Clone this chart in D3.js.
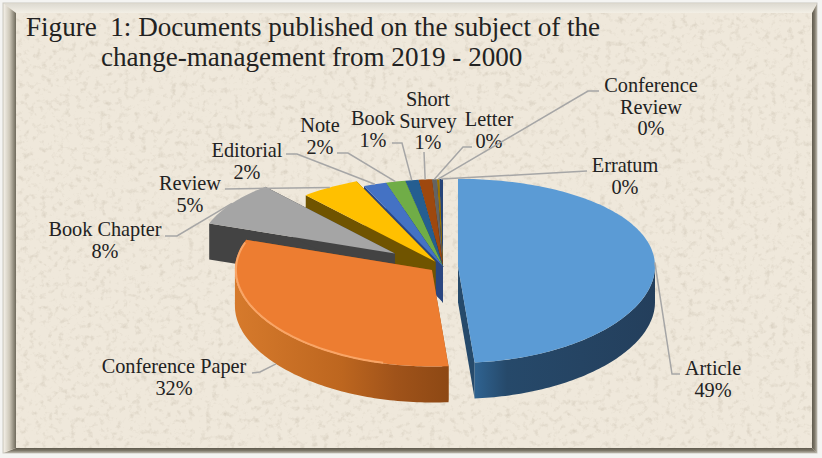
<!DOCTYPE html>
<html>
<head>
<meta charset="utf-8">
<script src="https://cdn.jsdelivr.net/npm/d3@7"></script>
<style>
html, body { margin: 0; padding: 0; background: #fff; }
svg { display: block; }
text { font-family: "Liberation Serif", serif; fill: #222; }
</style>
</head>
<body>
<div id="chart"></div>
<script>
var categories = ["Article", "Conference Paper", "Book Chapter", "Review", "Editorial", "Note",
    "Book", "Short Survey", "Letter", "Conference Review", "Erratum"];
var values = [48.9, 31.9, 8.2, 4.9, 1.9, 1.6, 1.1, 1.1, 0.4, 0.2, 0.3];
var titleLines = ["Figure  1: Documents published on the subject of the",
    "change-management from 2019 - 2000"];

var topColors = ["#5b9bd5", "#ed7d31", "#a5a5a5", "#ffc000", "#4472c4", "#70ad47",
    "#255e91", "#9e480e", "#636363", "#997300", "#264478"];
var sideColors = ["#264a6b", "#9c5015", "#434343", "#705400", "#2a4680", "#46702c",
    "#173b5c", "#642d09", "#3e3e3e", "#5f4800", "#1a2f58"];

var width = 822, height = 458;
var cx = 443, cy = 266.5, rx = 197, ry = 92, depth = 36;
// how far each slice is pulled out of the pie, px
var pull = [15, 14, 58, 14, 0, 0, 0, 0, 0, 0, 0];

// label centre x, first line baseline, then the leader elbow points
var labelLayout = [
    {x: 713, y: 375, lines: ["Article"], leader: [[672, 374], [680, 374]]},
    {x: 174, y: 373, lines: ["Conference Paper"], leader: [[260, 372], [252, 373]]},
    {x: 105, y: 236, lines: ["Book Chapter"], leader: [[177, 236], [165, 236]]},
    {x: 190, y: 190, lines: ["Review"], leader: [[225, 189]]},
    {x: 247, y: 157, lines: ["Editorial"], leader: [[297, 154], [286, 154]]},
    {x: 320, y: 132, lines: ["Note"], leader: [[348, 153], [337, 153]]},
    {x: 373, y: 125, lines: ["Book"], leader: [[402, 143], [392, 143]]},
    {x: 428, y: 106, lines: ["Short", "Survey"], leader: [[424, 152]]},
    {x: 489, y: 126, lines: ["Letter"], leader: [[463, 147], [472, 147]]},
    {x: 651, y: 92, lines: ["Conference", "Review"], leader: [[588, 91], [599, 91]]},
    {x: 625, y: 172, lines: ["Erratum"], leader: [[587, 171]]}
];

var svg = d3.select("#chart").append("svg")
    .attr("width", width)
    .attr("height", height);

var defs = svg.append("defs");

// paper texture for the panel
var paper = defs.append("filter").attr("id", "paper")
    .attr("x", 0).attr("y", 0).attr("width", "100%").attr("height", "100%");
paper.append("feTurbulence")
    .attr("type", "fractalNoise")
    .attr("baseFrequency", 0.17)
    .attr("numOctaves", 4)
    .attr("seed", 11)
    .attr("result", "noise");
paper.append("feColorMatrix")
    .attr("in", "noise")
    .attr("type", "matrix")
    .attr("values", "0 0 0 0 0.66  0 0 0 0 0.6  0 0 0 0 0.5  1.9 0 0 0 -1.0");

defs.append("filter").attr("id", "soft")
    .append("feGaussianBlur").attr("stdDeviation", 0.7);

function gradient(id, x1, y1, x2, y2, stops) {
    var g = defs.append("linearGradient").attr("id", id)
        .attr("x1", x1).attr("y1", y1).attr("x2", x2).attr("y2", y2);
    stops.forEach(function (s) {
        g.append("stop").attr("offset", s[0]).attr("stop-color", s[1]);
    });
}
gradient("bevelLeft", 0, 0, 1, 0, [[0, "#f1ede4"], [0.45, "#cfc9ba"], [1, "#6f6a5c"]]);
gradient("bevelRight", 0, 0, 1, 0, [[0, "#5f5a4d"], [0.5, "#7c7668"], [1, "#b9b4a8"]]);
gradient("bevelBottom", 0, 0, 0, 1, [[0, "#5f5a4d"], [0.5, "#7c7668"], [1, "#b9b4a8"]]);
gradient("bevelTop", 0, 0, 0, 1, [[0, "#dedbd2"], [1, "#f3efe5"]]);
gradient("wall0", 0, 0, 1, 0, [[0, "#2f6391"], [0.18, "#26496a"], [1, "#243f5c"]]);
gradient("wall1", 0, 0, 1, 0, [[0, "#d67a2c"], [0.5, "#bd661f"], [0.75, "#a0531a"], [1, "#8d4814"]]);

// frame
svg.append("rect").attr("width", width).attr("height", height).attr("fill", "#f4f4f2");
svg.append("rect").attr("x", 3).attr("y", 3).attr("width", 814).attr("height", 450)
    .attr("fill", "#efe8db").attr("stroke", "#c9c7c0");
svg.append("rect").attr("x", 16).attr("y", 13).attr("width", 796).attr("height", 435)
    .attr("fill", "#efe8db");
svg.append("rect").attr("x", 16).attr("y", 13).attr("width", 796).attr("height", 435)
    .attr("filter", "url(#paper)");
svg.append("polygon").attr("points", "4,4 816,4 812,13 16,13").attr("fill", "url(#bevelTop)");
svg.append("polygon").attr("points", "4,4 16,13 16,448 4,452").attr("fill", "url(#bevelLeft)");
svg.append("polygon").attr("points", "812,13 817,4 817,453 812,448").attr("fill", "url(#bevelRight)");
svg.append("polygon").attr("points", "4,453 16,448 812,448 817,453").attr("fill", "url(#bevelBottom)");

// title
svg.selectAll(".title")
    .data(titleLines)
    .enter()
    .append("text")
        .attr("class", "title")
        .attr("x", function (d, i) { return i == 0 ? 26 : 101; })
        .attr("y", function (d, i) { return i == 0 ? 36 : 66; })
        .style("font-size", "27.1px")
        .style("white-space", "pre")
        .text(function (d) { return d; });

// pie layout, angles run clockwise from twelve o'clock
var pie = d3.pie().sort(null)(values);
var slices = pie.map(function (p, i) {
    var mid = (p.startAngle + p.endAngle) / 2;
    return {
        i: i,
        a0: p.startAngle,
        a1: p.endAngle,
        mid: mid,
        ax: cx + pull[i] * Math.sin(mid),
        ay: cy - pull[i] * Math.cos(mid) * 0.4
    };
});

// unit circle to screen, the back of the pie is a little flatter than the front
function pt(s, a, r, drop) {
    var c = Math.cos(a) * r;
    return [s.ax + rx * r * Math.sin(a), s.ay - ry * c * (1 - 0.05 * c) + (drop || 0)];
}

function rim(s, a0, a1, r, drop) {
    var n = Math.max(2, Math.ceil(Math.abs(a1 - a0) / 0.02));
    return d3.range(n + 1).map(function (k) {
        return pt(s, a0 + (a1 - a0) * k / n, r, drop);
    });
}

var line = d3.line();

var pieG = svg.append("g");

// back slices first so the front ones cover them
var order = slices.slice().sort(function (a, b) {
    return Math.cos(b.mid) - Math.cos(a.mid);
});

order.forEach(function (s) {
    var g = pieG.append("g");
    var apex = [s.ax, s.ay];
    var apexLow = [s.ax, s.ay + depth];
    var side = sideColors[s.i];

    // cut faces
    [s.a0, s.a1].forEach(function (a) {
        var p = pt(s, a, 1), q = pt(s, a, 1, depth);
        g.append("path")
            .attr("d", line([apex, p, q, apexLow]) + "Z")
            .attr("fill", side);
    });

    // outer wall, only where the rim faces the viewer
    var w0 = Math.max(s.a0, Math.PI / 2), w1 = Math.min(s.a1, Math.PI * 1.5);
    if (w1 > w0) {
        var upper = rim(s, w0, w1, 1, 0);
        var lower = rim(s, w0, w1, 1, depth).reverse();
        g.append("path")
            .attr("d", line(upper.concat(lower)) + "Z")
            .attr("fill", s.i < 2 ? "url(#wall" + s.i + ")" : side);
    }

    // top face
    g.append("path")
        .attr("d", line([apex].concat(rim(s, s.a0, s.a1, 1, 0))) + "Z")
        .attr("fill", topColors[s.i]);

    // lit edge on the big orange slice
    if (s.i == 1) {
        g.append("path")
            .attr("d", line(rim(s, s.a1 - 0.03, Math.PI * 1.08, 0.995, 0)))
            .attr("fill", "none")
            .attr("stroke", "#f9a566")
            .attr("stroke-width", 2)
            .attr("filter", "url(#soft)");
    }
});

// leaders and labels
slices.forEach(function (s) {
    var layout = labelLayout[s.i];
    var start = pt(s, s.mid, 1, s.i == 1 ? depth : 0);
    svg.append("path")
        .attr("d", line([start].concat(layout.leader)))
        .attr("fill", "none")
        .attr("stroke", "#a6a6a6")
        .attr("stroke-width", 1.5);

    var rows = layout.lines.concat([Math.round(values[s.i]) + "%"]);
    svg.selectAll(".label" + s.i)
        .data(rows)
        .enter()
        .append("text")
            .attr("class", "label" + s.i)
            .attr("x", layout.x)
            .attr("y", function (d, k) { return layout.y + k * 21.5; })
            .attr("text-anchor", "middle")
            .style("font-size", "20.3px")
            .text(function (d) { return d; });
});
</script>
</body>
</html>
